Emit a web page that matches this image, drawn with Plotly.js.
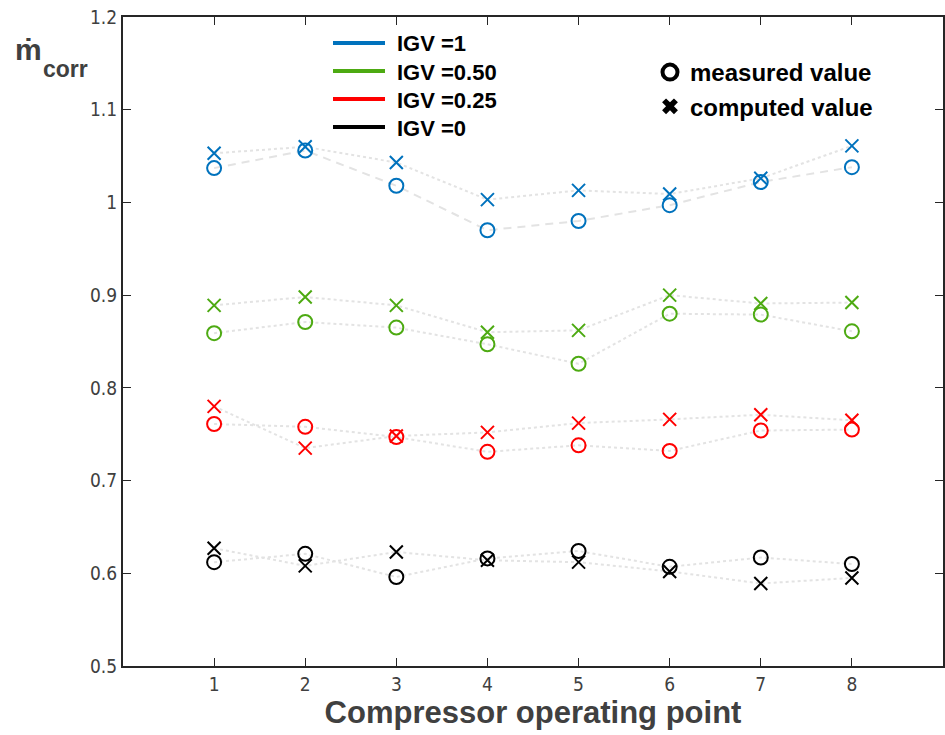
<!DOCTYPE html>
<html><head><meta charset="utf-8">
<script src="https://cdn.plot.ly/plotly-3.0.1.min.js"></script>
<style>body{margin:0;background:#fff}#plot{width:945px;height:735px}</style>
</head><body><div id="plot"></div>
<script>
const points = [1,2,3,4,5,6,7,8];
const seriesNames = ['IGV =1','IGV =0.50','IGV =0.25','IGV =0'];
const seriesColors = ['#0072BD','#4DAA12','#FF0000','#000000'];
const measuredIGV1   = [1.037,1.056,1.018,0.970,0.980,0.997,1.022,1.038];
const computedIGV1   = [1.053,1.060,1.043,1.003,1.013,1.009,1.026,1.061];
const measuredIGV050 = [0.859,0.871,0.865,0.847,0.826,0.880,0.879,0.861];
const computedIGV050 = [0.889,0.898,0.889,0.860,0.862,0.900,0.891,0.892];
const measuredIGV025 = [0.761,0.758,0.747,0.731,0.738,0.732,0.754,0.755];
const computedIGV025 = [0.780,0.735,0.748,0.752,0.762,0.766,0.771,0.765];
const measuredIGV0   = [0.612,0.621,0.596,0.616,0.624,0.607,0.617,0.610];
const computedIGV0   = [0.627,0.608,0.623,0.614,0.612,0.602,0.589,0.595];
const yTickVals = [0.5,0.6,0.7,0.8,0.9,1,1.1,1.2];
const yTickText = ['0.5','0.6','0.7','0.8','0.9','1','1.1','1.2'];

const measured = [measuredIGV1, measuredIGV050, measuredIGV025, measuredIGV0];
const computed = [computedIGV1, computedIGV050, computedIGV025, computedIGV0];

const traces = [];
const lineGray = '#e3e3e3';
for (let i=0;i<4;i++){
  traces.push({x:points,y:measured[i],mode:'lines',showlegend:false,hoverinfo:'skip',
    line:{color:lineGray,width:2,dash: i===0 ? '8px,6px' : 'dot'}});
  traces.push({x:points,y:computed[i],mode:'lines',showlegend:false,hoverinfo:'skip',
    line:{color:lineGray,width:2,dash:'dot'}});
}
for (let i=0;i<4;i++){
  traces.push({x:points,y:measured[i],mode:'markers',showlegend:false,
    marker:{symbol:'circle-open',size:14,color:seriesColors[i],line:{width:2,color:seriesColors[i]}}});
  traces.push({x:points,y:computed[i],mode:'markers',showlegend:false,
    marker:{symbol:'x-thin-open',size:13,color:seriesColors[i],line:{width:2,color:seriesColors[i]}}});
}
traces.push({x:[null],y:[null],mode:'markers',name:'measured value',showlegend:true,
  marker:{symbol:'circle-open',size:15,color:'#000',line:{width:4,color:'#000'}}});
traces.push({x:[null],y:[null],mode:'markers',name:'computed value',showlegend:true,
  marker:{symbol:'x',size:14,color:'#000',line:{width:0}}});

const W=945,H=735,ml=123,mr=2,mt=17,mb=69;
const pw=W-ml-mr, ph=H-mt-mb;
const px = v => (v-ml)/pw;
const py = v => (H-mb-v)/ph;

const shapes=[], annotations=[];
const legY=[43,71,99,127];
for(let i=0;i<4;i++){
  shapes.push({type:'line',xref:'paper',yref:'paper',x0:px(333),x1:px(385),y0:py(legY[i]),y1:py(legY[i]),
    line:{color:seriesColors[i],width:4}});
  annotations.push({xref:'paper',yref:'paper',x:px(395),y:py(legY[i]+1),xanchor:'left',yanchor:'middle',
    text:'<b>'+seriesNames[i]+'</b>',showarrow:false,font:{family:'Arial, Liberation Sans',size:22,color:'#000'}});
}
annotations.push({xref:'paper',yref:'paper',x:px(13),y:py(49),xanchor:'left',yanchor:'middle',
  text:'<b>ṁ</b>',showarrow:false,font:{family:'Arial, Liberation Sans',size:30,color:'#404040'}});
annotations.push({xref:'paper',yref:'paper',x:px(41),y:py(69),xanchor:'left',yanchor:'middle',
  text:'<b>corr</b>',showarrow:false,font:{family:'Arial, Liberation Sans',size:23,color:'#404040'}});

const layout = {
  width:W,height:H,margin:{l:ml,r:mr,t:mt,b:mb},
  paper_bgcolor:'#fff',plot_bgcolor:'#fff',
  showlegend:true,
  legend:{x:px(650),y:py(50),xanchor:'left',yanchor:'top',bgcolor:'rgba(0,0,0,0)',
    font:{family:'Arial, Liberation Sans',size:24,color:'#000',weight:'bold'},tracegroupgap:0,itemwidth:30},
  xaxis:{range:[0,9],tickvals:points,ticktext:points.map(String),ticks:'inside',ticklen:8,tickwidth:1.2,
    tickcolor:'#262626',showline:true,linecolor:'#262626',linewidth:2,mirror:'ticks',showgrid:false,zeroline:false,
    tickfont:{family:'DejaVu Sans Condensed, Liberation Sans Narrow, Arial',size:19,color:'#404040'},
    title:{text:'<b>Compressor operating point</b>',standoff:6,
      font:{family:'Liberation Sans Narrow, Arial Narrow, Arial',size:31,color:'#404040'}}},
  yaxis:{range:[0.5,1.2],tickvals:yTickVals,ticktext:yTickText,ticks:'inside',ticklen:8,tickwidth:1.2,
    tickcolor:'#262626',showline:true,linecolor:'#262626',linewidth:2,mirror:'ticks',showgrid:false,zeroline:false,
    tickfont:{family:'DejaVu Sans Condensed, Liberation Sans Narrow, Arial',size:19,color:'#404040'}},
  shapes:shapes,annotations:annotations
};
Plotly.newPlot('plot',traces,layout,{staticPlot:true,displayModeBar:false});
</script></body></html>
